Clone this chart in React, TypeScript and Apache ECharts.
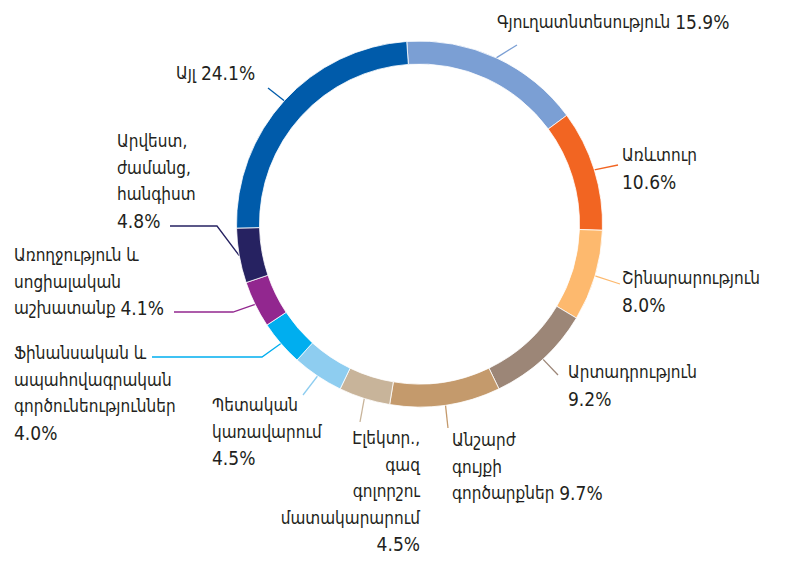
import React, { useEffect, useRef } from 'react';
import * as echarts from 'echarts';

const categories = [
  'Գյուղատնտեսություն',
  'Առևտուր',
  'Շինարարություն',
  'Արտադրություն',
  'Անշարժ գույքի գործարքներ',
  'Էլեկտր., գազ գոլորշու մատակարարում',
  'Պետական կառավարում',
  'Ֆինանսական և ապահովագրական գործունեություններ',
  'Առողջություն և սոցիալական աշխատանք',
  'Արվեստ, ժամանց, հանգիստ',
  'Այլ',
];
const values = [15.9, 10.6, 8.0, 9.2, 9.7, 4.5, 4.5, 4.0, 4.1, 4.8, 24.1];
const wrappedNames = [
  ['Գյուղատնտեսություն'],
  ['Առևտուր'],
  ['Շինարարություն'],
  ['Արտադրություն'],
  ['Անշարժ', 'գույքի', 'գործարքներ'],
  ['Էլեկտր.,', 'գազ', 'գոլորշու', 'մատակարարում'],
  ['Պետական', 'կառավարում'],
  ['Ֆինանսական և', 'ապահովագրական', 'գործունեություններ'],
  ['Առողջություն և', 'սոցիալական', 'աշխատանք'],
  ['Արվեստ,', 'ժամանց,', 'հանգիստ'],
  ['Այլ'],
];
const colors = ['#7b9fd4', '#f26522', '#fdb96e', '#9c8677', '#c49a6c', '#c8b49a', '#8ecdf0', '#00aeef', '#92278f', '#262261', '#005baa'];

// label placement (layout only)
const layouts: any[] = [
  { x: 497, y: 9, align: 'left', sep: ' ', pts: [[517, 45]] },
  { x: 622, y: 142, align: 'left', sep: '\n', pts: [[618, 165]] },
  { x: 622, y: 265, align: 'left', sep: '\n', pts: [[620, 284]] },
  { x: 568, y: 359, align: 'left', sep: '\n', pts: [[558, 375]] },
  { x: 452, y: 427, align: 'left', sep: ' ', pts: [[448, 428]] },
  { x: 420, y: 425, align: 'right', sep: '\n', pts: [[360, 422]] },
  { x: 212, y: 392, align: 'left', sep: '\n', pts: [[303, 395]] },
  { x: 14, y: 340, align: 'left', sep: '\n', pts: [[262, 357], [152, 357]] },
  { x: 14, y: 242, align: 'left', sep: ' ', pts: [[233, 312], [174, 312]] },
  { x: 117, y: 128, align: 'left', sep: '\n', pts: [[217, 226], [170, 226]] },
  { x: 176, y: 60, align: 'left', sep: ' ', pts: [[268, 88]] },
];

const FONT = '"DejaVu Sans Condensed", "DejaVu Sans", sans-serif';

export default function App() {
  const ref = useRef<HTMLDivElement>(null);
  useEffect(() => {
    if (!ref.current) return;
    const chart = echarts.init(ref.current, undefined, { renderer: 'svg' });
    chart.setOption({
      animation: false,
      backgroundColor: '#ffffff',
      series: [
        {
          type: 'pie',
          center: [419.5, 224],
          radius: [160, 183],
          startAngle: 94,
          clockwise: true,
          avoidLabelOverlap: false,
          itemStyle: { borderColor: '#ffffff', borderWidth: 0.8 },
          label: {
            show: true,
            position: 'outside',
            color: '#231f20',
            fontFamily: FONT,
            fontSize: 17,
            lineHeight: 26.5,
            rich: {
              t: { color: '#231f20', fontFamily: FONT, fontSize: 17, lineHeight: 26.5 },
              n: { color: '#231f20', fontFamily: FONT, fontSize: 19, lineHeight: 26.5 },
            },
            formatter: (p: any) => {
              const i = p.dataIndex;
              const lines = wrappedNames[i].map((s: string) => '{t|' + s + '}');
              const num = '{n|' + values[i].toFixed(1) + '%}';
              const sep = layouts[i].sep;
              if (sep === '\n') return lines.join('\n') + '\n' + num;
              return lines.join('\n') + '{t|' + sep + '}' + num;
            },
          },
          labelLine: { show: true, length: 10, length2: 10, lineStyle: { width: 1.3 } },
          labelLayout: (params: any) => {
            const l = layouts[params.dataIndex];
            const start = params.labelLinePoints ? params.labelLinePoints[0] : l.pts[0];
            const pts = l.pts.length === 1 ? [start, l.pts[0], l.pts[0]] : [start, l.pts[0], l.pts[1]];
            return {
              x: l.x,
              y: l.y,
              align: l.align,
              verticalAlign: 'top',
              labelLinePoints: pts,
              hideOverlap: false,
            };
          },
          data: categories.map((c, i) => ({ name: c, value: values[i], itemStyle: { color: colors[i] } })),
        },
      ],
    });
    return () => chart.dispose();
  }, []);
  return <div ref={ref} style={{ position: 'absolute', left: 0, top: 0, width: 787, height: 563 }} />;
}
